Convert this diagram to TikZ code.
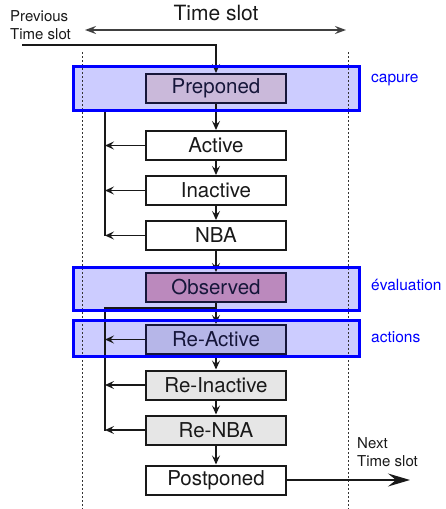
\documentclass[tikz,border=0pt]{standalone}
\usepackage{fontspec}
\setmainfont{TeX Gyre Heros}
\usetikzlibrary{arrows.meta}

\definecolor{bandfill}{RGB}{204,204,255}
\definecolor{bandline}{RGB}{0,0,255}
\definecolor{preponedfill}{RGB}{202,185,218}
\definecolor{observedfill}{RGB}{187,137,189}
\definecolor{reactivefill}{RGB}{182,182,232}
\definecolor{regionfill}{RGB}{230,230,230}
\definecolor{inkdark}{RGB}{25,25,25}
\definecolor{inknavy}{RGB}{22,22,58}

\tikzset{
  stepbox/.style={draw=inkdark, line width=2pt, fill=white, inner sep=0pt,
    minimum width=140pt, minimum height=29pt, text=inkdark,
    font=\fontsize{20.5}{23}\selectfont},
  inband/.style={draw=inknavy, text=inknavy},
  band/.style={fill=bandfill, draw=none, inner sep=0pt, minimum width=286pt},
  bandborder/.style={draw=bandline, line width=3pt},
  bandlabel/.style={anchor=west, text=bandline, inner sep=0pt,
    font=\fontsize{15.5}{18}\selectfont},
  flow/.style={draw=inkdark, line width=1.3pt,
    -{Stealth[length=9pt, width=8pt, inset=3.5pt]}},
  plain/.style={draw=inkdark, line width=1.3pt},
  slotline/.style={draw=black!80, dash pattern=on 2pt off 2pt, line width=0.9pt},
  note/.style={align=left, anchor=west, inner sep=0pt, text=inkdark,
    font=\fontsize{15}{18.5}\selectfont},
}

\begin{document}
\begin{tikzpicture}[x=1pt, y=-1pt]
  \useasboundingbox (0,0) rectangle (446,509);

  % highlight bands (fill first, borders drawn last)
  \node[band, minimum height=44pt] (capure) at (216.5,88.5) {};
  \node[band, minimum height=43pt] (eval)   at (216.5,289)  {};
  \node[band, minimum height=36pt] (act)    at (216.5,338.5) {};

  % borders of the time slot
  \coordinate (slotLtop) at (82,52);
  \coordinate (slotLbot) at (82,509);
  \coordinate (slotRtop) at (348,52);
  \coordinate (slotRbot) at (348,509);
  \draw[slotline] (slotLtop) -- (slotLbot);
  \draw[slotline] (slotRtop) -- (slotRbot);

  % time slot span
  \coordinate (spanL) at (85,30);
  \coordinate (spanR) at (346,30);
  \draw[draw=black!75, line width=1.3pt,
    {Stealth[length=11pt, width=8pt, inset=4pt]}-{Stealth[length=11pt, width=8pt, inset=4pt]}]
    (spanL) -- (spanR);
  \node[inner sep=0pt, text=inkdark, font=\fontsize{21}{24}\selectfont] (slottitle) at (216,13) {Time slot};

  % region boxes
  \node[stepbox, inband, fill=preponedfill] (pre)     at (216,88.5)  {Preponed};
  \node[stepbox]                            (active)  at (216,145.5) {Active};
  \node[stepbox]                            (inact)   at (216,190.5) {Inactive};
  \node[stepbox]                            (nba)     at (216,235.5) {NBA};
  \node[stepbox, inband, fill=observedfill] (obs)     at (216,287.5) {Observed};
  \node[stepbox, inband, fill=reactivefill] (react)   at (216,339.5) {Re-Active};
  \node[stepbox, fill=regionfill]           (reinact) at (216,385)   {Re-Inactive};
  \node[stepbox, fill=regionfill]           (renba)   at (216,430)   {Re-NBA};
  \node[stepbox]                            (post)    at (216,480)   {Postponed};

  % entry from the previous time slot
  \node[note] (prevlabel) at (10,25) {Previous\\Time slot};
  \coordinate (prevstart) at (22,45);
  \draw[flow] (prevstart) -| (pre.north);

  % main flow
  \draw[flow] (pre) -- (active);
  \draw[flow] (active) -- (inact);
  \draw[flow] (inact) -- (nba);
  \draw[flow] (nba) -- (obs);
  \draw[flow] (obs) -- (react);
  \draw[flow] (react) -- (reinact);
  \draw[flow] (reinact) -- (renba);
  \draw[flow] (renba) -- (post);

  % first feedback loop
  \coordinate (fbAtop) at (105,112);
  \coordinate (fbAbot) at (105,236);
  \draw[plain] (fbAtop) -- (fbAbot);
  \draw[flow] (active.west) -- (active.west -| fbAtop);
  \draw[flow] (inact.west) -- (inact.west -| fbAtop);
  \draw[flow] (nba.west) -- (nba.west -| fbAtop);

  % second feedback loop
  \coordinate (fbBstart) at (216,308);
  \coordinate (fbBcorner) at (105,308);
  \coordinate (fbBbot) at (105,431);
  \draw[plain] (fbBstart) -- (fbBcorner) -- (fbBbot);
  \draw[flow] (react.west) -- (react.west -| fbBcorner);
  \draw[flow] (reinact.west) -- (reinact.west -| fbBcorner);
  \draw[flow] (renba.west) -- (renba.west -| fbBcorner);

  % exit to the next time slot
  \coordinate (nextend) at (410,480);
  \draw[draw=inkdark, line width=1.3pt, -{Stealth[length=22pt, width=13pt, inset=8pt]}]
    (post.east) -- (nextend);
  \node[note] (nextlabel) at (357,452) {Next\\Time slot};

  % band borders and labels
  \draw[bandborder] (capure.north west) rectangle (capure.south east);
  \draw[bandborder] (eval.north west) rectangle (eval.south east);
  \draw[bandborder] (act.north west) rectangle (act.south east);
  \node[bandlabel] (capurelabel) at (371,80)  {capure};
  \node[bandlabel] (evallabel)   at (371,285) {évaluation};
  \node[bandlabel] (actlabel)    at (371,337) {actions};
\end{tikzpicture}
\end{document}
